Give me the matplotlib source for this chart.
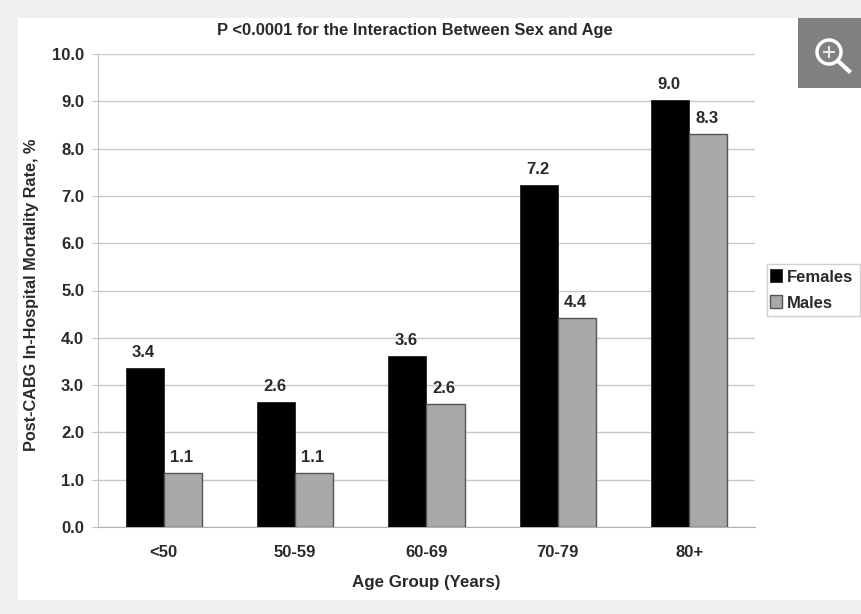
import numpy as np
import matplotlib
matplotlib.use('Agg')
import matplotlib.pyplot as plt
from matplotlib.patches import Rectangle, Ellipse

groups = ['<50', '50-59', '60-69', '70-79', '80+']
females = [3.37, 2.65, 3.62, 7.22, 9.02]
males = [1.14, 1.14, 2.6, 4.42, 8.31]
female_labels = ['3.4', '2.6', '3.6', '7.2', '9.0']
male_labels = ['1.1', '1.1', '2.6', '4.4', '8.3']
yticks = [0, 1, 2, 3, 4, 5, 6, 7, 8, 9, 10]

plt.rcParams['font.family'] = ['Liberation Sans', 'DejaVu Sans']
W, H = 862, 614
TEXT = '#2a2a2a'

fig = plt.figure(figsize=(W / 100, H / 100), dpi=100, facecolor='#f0f0f0')
# white panel behind the chart
fig.add_artist(Rectangle((18 / W, 1 - 600 / H), 844 / W, 582 / H, transform=fig.transFigure,
                         facecolor='white', edgecolor='none', zorder=-1))

ax = fig.add_axes([98 / W, 1 - 527 / H, 657 / W, 473 / H])
ax.patch.set_alpha(0)

x = np.arange(len(groups))
w = 0.29
ax.bar(x - w / 2, females, w, color='black', edgecolor='#222222', linewidth=0.6, label='Females', zorder=3)
ax.bar(x + w / 2, males, w, color='#a9a9a9', edgecolor='#555555', linewidth=1.0, label='Males', zorder=3)

for i in range(len(groups)):
    ax.text(x[i] - w / 2 - 0.01, females[i] + 0.17, female_labels[i], ha='center', va='bottom',
            fontsize=12, fontweight='bold', color=TEXT)
    ax.text(x[i] + w / 2 - 0.01, males[i] + 0.17, male_labels[i], ha='center', va='bottom',
            fontsize=12, fontweight='bold', color=TEXT)

ax.set_xlim(-0.5, 4.5)
ax.set_ylim(0, 10)
ax.set_yticks(yticks)
ax.set_yticklabels(['%.1f' % v for v in yticks], fontsize=12, fontweight='bold', color=TEXT)
ax.set_xticks(x)
ax.set_xticklabels(groups, fontsize=12, fontweight='bold', color=TEXT)
ax.grid(axis='y', color='#c8c8c8', linewidth=1.0, zorder=0)
ax.tick_params(axis='x', length=0, pad=13)
ax.tick_params(axis='y', length=4, color='#c0c0c0', pad=6)
for s in ['top', 'right']:
    ax.spines[s].set_visible(False)
ax.spines['left'].set_color('#c4c4c4')
ax.spines['bottom'].set_color('#b0b0b0')

fig.text(426 / W, 1 - 582 / H, 'Age Group (Years)', fontsize=12.2, fontweight='bold', color=TEXT,
         ha='center', va='center')
fig.text(32 / W, 1 - 295 / H, 'Post-CABG In-Hospital Mortality Rate, %', fontsize=11.7, fontweight='bold',
         color=TEXT, rotation=90, ha='center', va='center')
fig.text(415 / W, 1 - 31 / H, 'P <0.0001 for the Interaction Between Sex and Age', fontsize=11.9,
         fontweight='bold', color=TEXT, ha='center', va='center')

# legend box is drawn apart so the padding can differ by direction
fig.add_artist(Rectangle((767 / W, 1 - 316 / H), 93 / W, 52 / H, transform=fig.transFigure,
                         facecolor='white', edgecolor='#d0d0d0', linewidth=1))
leg = fig.legend(loc='center left', bbox_to_anchor=(770 / W, 1 - 290 / H),
                 prop={'weight': 'bold', 'size': 12}, frameon=False,
                 handlelength=0.75, handleheight=0.8, handletextpad=0.25, borderpad=0,
                 borderaxespad=0, labelspacing=0.65, labelcolor=TEXT)
leg.set_zorder(5)

# zoom badge in the corner
fig.add_artist(Rectangle((798 / W, 1 - 88 / H), 64 / W, 70 / H, transform=fig.transFigure,
                         facecolor='#808080', edgecolor='none'))
fig.add_artist(Ellipse((829 / W, 1 - 52 / H), 24 / W, 24 / H, transform=fig.transFigure, fill=False,
                       edgecolor='white', linewidth=2.5))
fig.add_artist(plt.Line2D([838 / W, 849 / W], [1 - 61 / H, 1 - 71 / H], color='white', linewidth=3))
fig.add_artist(plt.Line2D([824 / W, 834 / W], [1 - 52 / H, 1 - 52 / H], color='#e8e8e8', linewidth=1.5))
fig.add_artist(plt.Line2D([829 / W, 829 / W], [1 - 47 / H, 1 - 57 / H], color='#e8e8e8', linewidth=1.5))

fig.savefig('out.png', dpi=100, facecolor=fig.get_facecolor())
